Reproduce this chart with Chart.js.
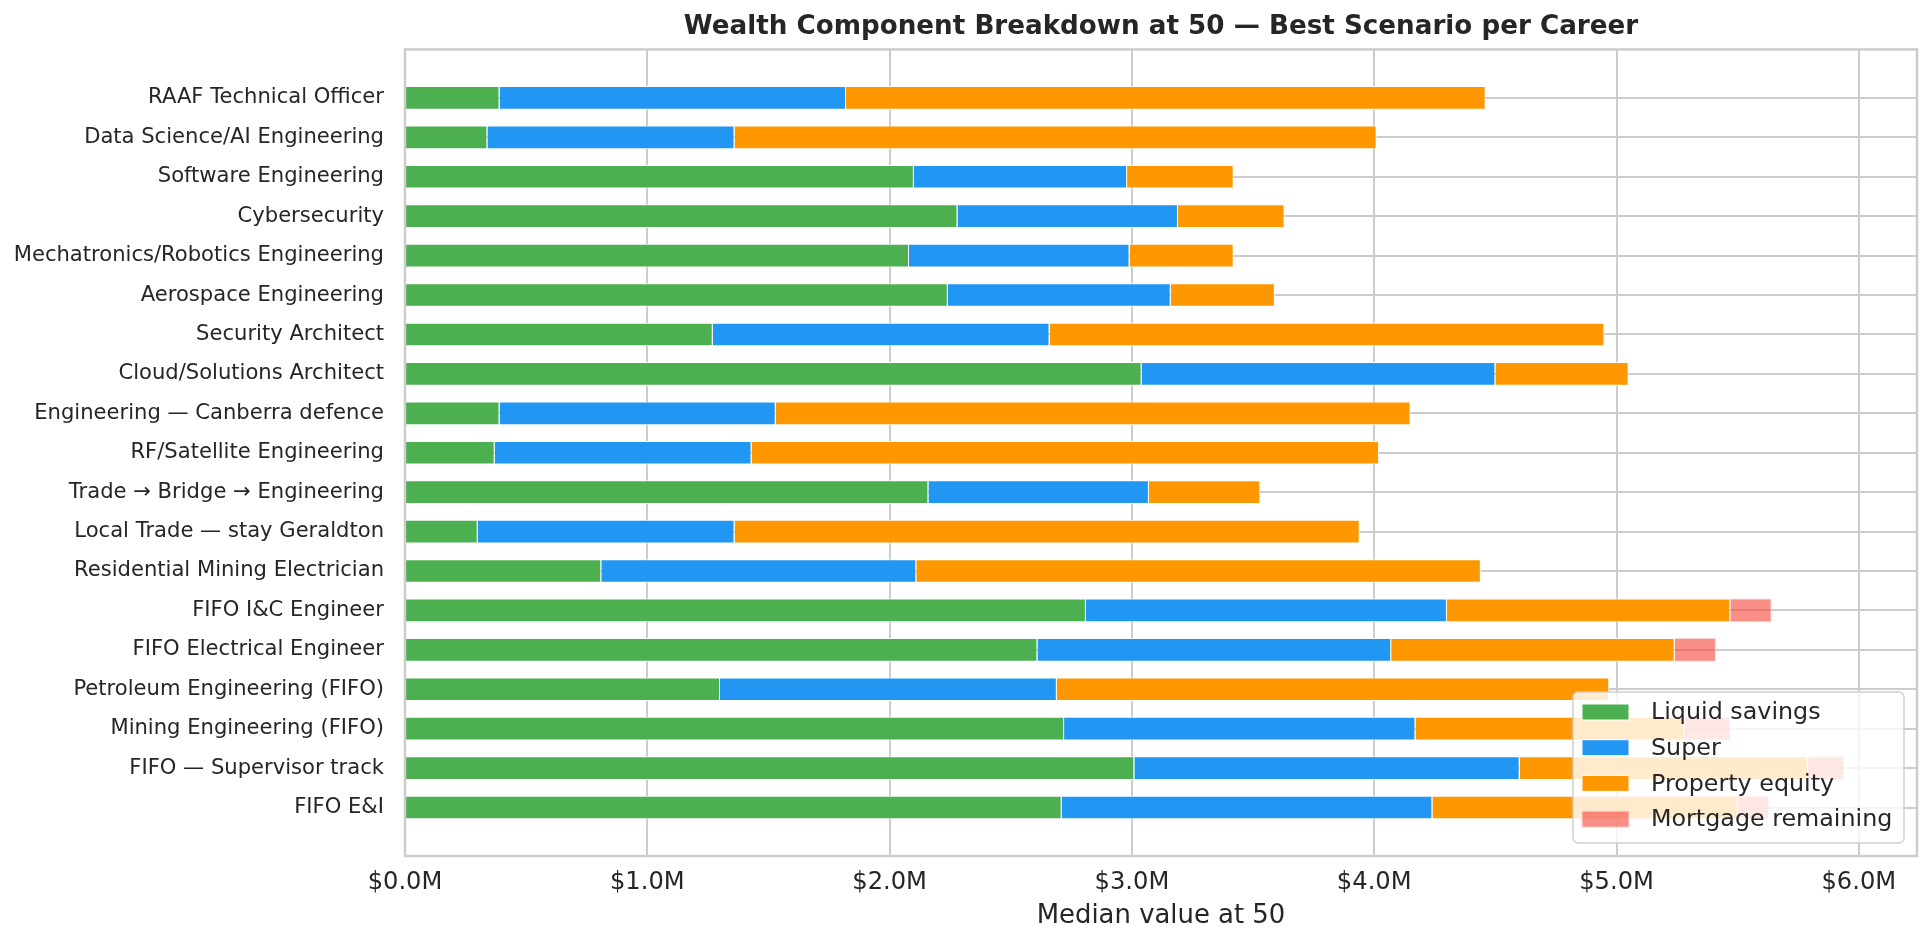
<!DOCTYPE html>
<html>
<head>
<meta charset="utf-8">
<title>Wealth Component Breakdown at 50</title>
<script src="https://cdn.jsdelivr.net/npm/chart.js@4"></script>
<style>
  html, body { margin: 0; padding: 0; background: #ffffff; }
  #wrap { width: 1930px; height: 949px; position: relative; }
</style>
</head>
<body>
<div id="wrap"><canvas id="wealthChart"></canvas></div>
<script>
// careers, top to bottom
var careers = [
    "RAAF Technical Officer",
    "Data Science/AI Engineering",
    "Software Engineering",
    "Cybersecurity",
    "Mechatronics/Robotics Engineering",
    "Aerospace Engineering",
    "Security Architect",
    "Cloud/Solutions Architect",
    "Engineering \u2014 Canberra defence",
    "RF/Satellite Engineering",
    "Trade \u2192 Bridge \u2192 Engineering",
    "Local Trade \u2014 stay Geraldton",
    "Residential Mining Electrician",
    "FIFO I&C Engineer",
    "FIFO Electrical Engineer",
    "Petroleum Engineering (FIFO)",
    "Mining Engineering (FIFO)",
    "FIFO \u2014 Supervisor track",
    "FIFO E&I"
];

// values in $M
var liquidSavings = [0.39, 0.34, 2.10, 2.28, 2.08, 2.24, 1.27, 3.04, 0.39, 0.37, 2.16, 0.30, 0.81, 2.81, 2.61, 1.30, 2.72, 3.01, 2.71];
var superFund     = [1.43, 1.02, 0.88, 0.91, 0.91, 0.92, 1.39, 1.46, 1.14, 1.06, 0.91, 1.06, 1.30, 1.49, 1.46, 1.39, 1.45, 1.59, 1.53];
var propertyEq    = [2.64, 2.65, 0.44, 0.44, 0.43, 0.43, 2.29, 0.55, 2.62, 2.59, 0.46, 2.58, 2.33, 1.17, 1.17, 2.28, 1.11, 1.19, 1.26];
var mortgageLeft  = [null, null, null, null, null, null, null, null, null, null, null, null, null, 0.17, 0.17, null, 0.19, 0.15, 0.13];

var xTicks = [0, 1, 2, 3, 4, 5, 6];

var textColor = "#262626";
var gridColor = "#cccccc";

function toPoints(arr) {
    return arr.map(function (v, i) { return { x: v, y: i }; });
}

var data = {
    datasets: [{
        label: "Liquid savings",
        data: toPoints(liquidSavings),
        backgroundColor: "#4CAF50",
        borderColor: "#ffffff",
        borderWidth: 1
    }, {
        label: "Super",
        data: toPoints(superFund),
        backgroundColor: "#2196F3",
        borderColor: "#ffffff",
        borderWidth: 1
    }, {
        label: "Property equity",
        data: toPoints(propertyEq),
        backgroundColor: "#FF9800",
        borderColor: "#ffffff",
        borderWidth: 1
    }, {
        label: "Mortgage remaining",
        data: toPoints(mortgageLeft),
        backgroundColor: "rgba(244,67,54,0.6)",
        borderColor: "rgba(252,214,210,1)",
        borderWidth: 1
    }]
};

// frame round the plot and the legend box inside it, lower right
var framePlugin = {
    id: "frameAndLegend",
    afterDatasetsDraw: function (chart) {
        var ctx = chart.ctx;
        var a = chart.chartArea;
        ctx.save();
        ctx.strokeStyle = gridColor;
        ctx.lineWidth = 2.5;
        ctx.strokeRect(a.left, a.top, a.right - a.left, a.bottom - a.top);

        var boxW = 331, boxH = 151;
        var bx = a.right - 13 - boxW;
        var by = a.bottom - 13 - boxH;
        ctx.beginPath();
        ctx.roundRect(bx, by, boxW, boxH, 5);
        ctx.fillStyle = "rgba(255,255,255,0.8)";
        ctx.fill();
        ctx.lineWidth = 1.5;
        ctx.strokeStyle = "rgba(204,204,204,0.9)";
        ctx.stroke();

        ctx.font = "23.8px 'DejaVu Sans'";
        ctx.textBaseline = "middle";
        ctx.textAlign = "left";
        chart.data.datasets.forEach(function (ds, i) {
            var cy = by + 20 + i * 35.7;
            ctx.fillStyle = ds.backgroundColor;
            ctx.fillRect(bx + 9, cy - 8, 47, 16);
            ctx.strokeStyle = i === 3 ? "rgba(252,214,210,1)" : "#ffffff";
            ctx.lineWidth = 1;
            ctx.strokeRect(bx + 9, cy - 8, 47, 16);
            ctx.fillStyle = textColor;
            ctx.fillText(ds.label, bx + 78, cy + 1);
        });
        ctx.restore();
    }
};

var options = {
    indexAxis: "y",
    responsive: true,
    maintainAspectRatio: false,
    devicePixelRatio: 1,
    animation: false,
    layout: { padding: { left: 0, right: 13, top: 0, bottom: 0 } },
    datasets: {
        bar: { categoryPercentage: 1, barPercentage: 0.6 }
    },
    scales: {
        x: {
            type: "linear",
            stacked: true,
            min: 0,
            max: 6.24,
            afterFit: function (scale) { scale.height = 93; },
            afterBuildTicks: function (scale) {
                scale.ticks = xTicks.map(function (v) { return { value: v }; });
            },
            ticks: {
                stepSize: 1,
                includeBounds: false,
                padding: 12,
                color: textColor,
                font: { family: "'DejaVu Sans'", size: 24.2 },
                callback: function (v) { return "$" + Number(v).toFixed(1) + "M"; }
            },
            grid: { color: gridColor, lineWidth: 2, drawTicks: false },
            border: { display: false },
            title: {
                display: true,
                text: "Median value at 50",
                color: textColor,
                font: { family: "'DejaVu Sans'", size: 25.9 },
                padding: { top: 4, bottom: 17 }
            }
        },
        y: {
            type: "linear",
            stacked: true,
            reverse: true,
            offset: false,
            min: -1.23,
            max: 19.23,
            afterFit: function (scale) { scale.width = 405; },
            afterBuildTicks: function (scale) {
                scale.ticks = careers.map(function (c, i) { return { value: i }; });
            },
            ticks: {
                stepSize: 1,
                includeBounds: false,
                padding: 21,
                color: textColor,
                font: { family: "'DejaVu Sans'", size: 21.1 },
                callback: function (v) { return careers[v] || ""; }
            },
            grid: { color: gridColor, lineWidth: 2, drawTicks: false, offset: false },
            border: { display: false }
        }
    },
    plugins: {
        legend: { display: false },
        tooltip: { enabled: false },
        title: {
            display: true,
            fullSize: false,
            text: "Wealth Component Breakdown at 50 \u2014 Best Scenario per Career",
            color: textColor,
            font: { family: "'DejaVu Sans'", size: 26.2, weight: "bold" },
            padding: { top: 11, bottom: 7 }
        }
    }
};

var ctx = document.getElementById("wealthChart").getContext("2d");
var chart = new Chart(ctx, {
    type: "bar",
    data: data,
    options: options,
    plugins: [framePlugin]
});
</script>
</body>
</html>
